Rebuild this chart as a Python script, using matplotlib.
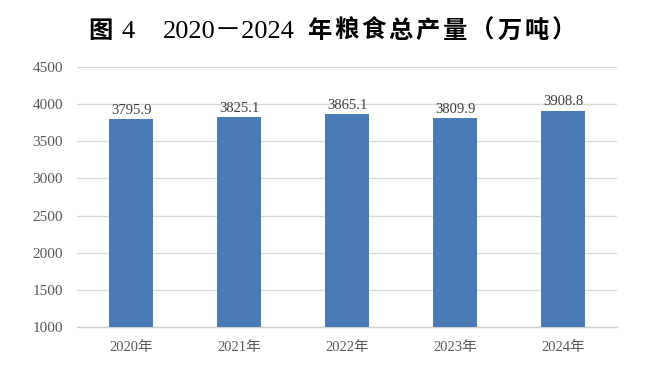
import matplotlib
matplotlib.use("Agg")
import matplotlib.pyplot as plt

years = ["2020年", "2021年", "2022年", "2023年", "2024年"]
values = [3795.9, 3825.1, 3865.1, 3809.9, 3908.8]
yticks = [1000, 1500, 2000, 2500, 3000, 3500, 4000, 4500]

W, H = 655, 385
fig = plt.figure(figsize=(W / 100, H / 100), dpi=100)
fam = ["Liberation Serif", "Noto Sans CJK SC"]

ax_left, ax_right, ax_top, ax_bot = 77, 617, 67.3, 326.7
ax = fig.add_axes([ax_left / W, 1 - ax_bot / H, (ax_right - ax_left) / W, (ax_bot - ax_top) / H])

x = list(range(len(years)))
bars = ax.bar(x, values, width=0.4, color="#4a7bb4", zorder=3, bottom=0)
ax.set_xlim(-0.5, len(years) - 0.5)
ax.set_ylim(1000, 4500)
ax.set_yticks(yticks)
ax.set_yticklabels([str(t) for t in yticks], family=fam, fontsize=11, color="#595959")
ax.set_xticks(x)
ax.set_xticklabels(years, family=fam, fontsize=10.5, color="#595959")
ax.tick_params(axis="y", length=0, pad=10)
ax.tick_params(axis="x", length=0, pad=10)
ax.grid(axis="y", color="#d9d9d9", linewidth=1.0, zorder=0)
for s in ["top", "right", "left"]:
    ax.spines[s].set_visible(False)
ax.spines["bottom"].set_color("#d0d0d0")
ax.spines["bottom"].set_linewidth(1.0)

for xi, v in zip(x, values):
    ax.annotate(f"{v:.1f}", (xi, v), xytext=(0, 2), textcoords="offset points",
                ha="center", va="bottom", family=fam, fontsize=10.5, color="#404040")

# Title pieces
base_y = 1 - 38 / H
fig.text(88 / W, base_y, "图", family=["Noto Sans CJK SC"], weight="bold", fontsize=17.5, va="baseline", ha="left", color="black")
fig.text(122 / W, base_y, "4", family=fam, fontsize=19, va="baseline", ha="left", color="black")
fig.text(163 / W, base_y, "2020－2024", family=fam, fontsize=19, va="baseline", ha="left", color="black")
cjk = "年粮食总产量（万吨）"
x0 = 307
pitch = 27.2
for i, ch in enumerate(cjk):
    xx = x0 + i * pitch
    fig.text(xx / W, base_y, ch, family=["Noto Sans CJK SC"], weight="bold", fontsize=17.5, va="baseline", ha="left", color="black")

fig.savefig("out.png", dpi=100)
